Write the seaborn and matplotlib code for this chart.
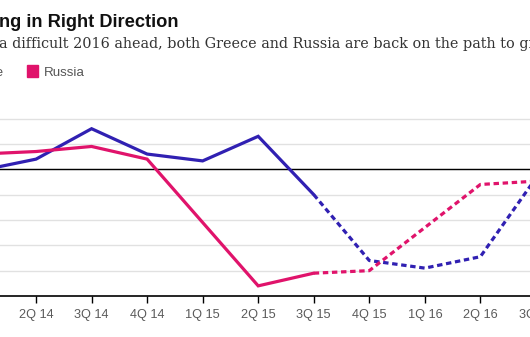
import numpy as np
import pandas as pd
import matplotlib
matplotlib.use("Agg")
import matplotlib.pyplot as plt
import seaborn as sns

# ---- data ----
quarters = ["1Q 14", "2Q 14", "3Q 14", "4Q 14", "1Q 15", "2Q 15",
            "3Q 15", "4Q 15", "1Q 16", "2Q 16", "3Q 16"]
greece = [-0.05, 0.40, 1.60, 0.60, 0.33, 1.30, -1.00, -3.60, -3.90, -3.45, -0.35]
russia = [0.60, 0.70, 0.90, 0.40, -2.10, -4.60, -4.10, -4.00, -2.30, -0.60, -0.47]
countries = ["Greece", "Russia"]
last_actual = "3Q 15"
title = "ng in Right Direction"
subtitle = "a difficult 2016 ahead, both Greece and Russia are back on the path to growth"

colors = {"Greece": "#3020b2", "Russia": "#e0136b"}

# ---- long table ----
cut = quarters.index(last_actual)
rows = []
for name, vals in zip(countries, [greece, russia]):
    for i, v in enumerate(vals):
        if i <= cut:
            rows.append((i, v, name, "actual"))
        if i >= cut:
            rows.append((i, v, name, "forecast"))
df = pd.DataFrame(rows, columns=["q", "value", "country", "segment"])

sns.set_theme(style="white")
plt.rcParams["font.family"] = ["Liberation Sans", "DejaVu Sans"]

W, H = 530, 337
fig = plt.figure(figsize=(W / 100, H / 100), dpi=100)
fx = lambda px: px / W
fy = lambda py: 1 - py / H

# axes extend beyond the canvas (the reference is a crop)
left_px, right_px = -60, 590
bottom_px, top_px = 296, 105.9
ax = fig.add_axes([fx(left_px), fy(bottom_px),
                   (right_px - left_px) / W, (bottom_px - top_px) / H])

sns.lineplot(data=df, x="q", y="value", hue="country", style="segment",
             hue_order=countries, palette=colors,
             dashes={"actual": "", "forecast": (1.7, 1.15)},
             estimator=None, sort=True, linewidth=2.3, legend=False, ax=ax)
for ln in ax.get_lines():
    ln.set_dash_capstyle("butt")
    ln.set_solid_joinstyle("miter")

x0_px, step_px = -19.5, 55.54
ax.set_xlim((left_px - x0_px) / step_px, (right_px - x0_px) / step_px)
ax.set_ylim(-5, 2.5)

ax.set_yticks([-4, -3, -2, -1, 0, 1, 2])
ax.yaxis.grid(True, color="#e1e1e1", linewidth=1.0)
ax.xaxis.grid(False)
ax.tick_params(axis="y", left=False, labelleft=False)
ax.axhline(0, color="black", linewidth=1.0, zorder=1.5)

ax.set_xticks(range(len(quarters)))
ax.set_xticklabels(quarters)
ax.get_xticklabels()[0].set_visible(False)  # lies off the cropped canvas
ax.tick_params(axis="x", bottom=True, direction="out", length=5, width=1,
               color="black", pad=4.5, labelsize=9.2, labelcolor="#5a5a5a")
ax.set_xlabel("")
ax.set_ylabel("")
for s in ["top", "left", "right"]:
    ax.spines[s].set_visible(False)
ax.spines["bottom"].set_color("black")
ax.spines["bottom"].set_linewidth(1.2)

# ---- header texts ----
renderer = fig.canvas.get_renderer()

def fit_size(s, target_px, base=12, **kw):
    t = fig.text(0, 0, s, fontsize=base, **kw)
    w = t.get_window_extent(renderer).width
    t.remove()
    return base * target_px / w

tsize = fit_size(title, 179, family=["Liberation Sans"], weight="bold")
fig.text(fx(-1), fy(27), title, fontsize=tsize, weight="bold",
         family=["Liberation Sans"], color="#111111", va="baseline", ha="left")

ssize = fit_size("a difficult 2016 ahead, both Greece and Russia are back on the path to",
                 517, family=["DejaVu Serif"])
fig.text(fx(-1), fy(48), subtitle, fontsize=ssize, family=["DejaVu Serif"],
         color="#333333", va="baseline", ha="left")

# legend
fig.patches.append(plt.Rectangle((fx(27), fy(77)), 11 / W, 12 / H,
                                 transform=fig.transFigure, color=colors["Russia"]))
fig.text(fx(44), fy(76.5), "Russia", fontsize=9.6, color="#555555",
         va="baseline", ha="left")
fig.text(fx(3), fy(76.5), "Greece", fontsize=9.6, color="#555555",
         va="baseline", ha="right")

fig.savefig("out.png", dpi=100)
